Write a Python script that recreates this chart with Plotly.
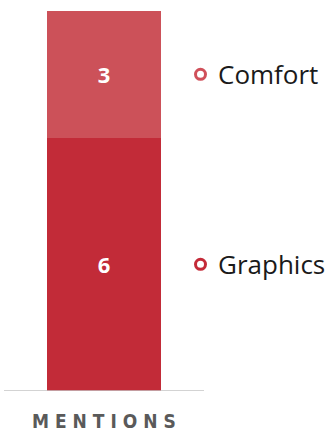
import plotly.graph_objects as go

categories = ["MENTIONS"]
series_names = ["Graphics", "Comfort"]
series_values = [[6], [3]]
series_colors = ["#c22b38", "#cc5159"]
marker_colors = ["#c42a38", "#d0505a"]

fig = go.Figure()
for name, vals, col in zip(series_names, series_values, series_colors):
    fig.add_trace(go.Bar(
        x=categories, y=vals, name=name, marker=dict(color=col, line=dict(width=0)),
        width=0.57, text=[str(v) for v in vals], textposition="inside",
        insidetextanchor="middle", textangle=0,
        textfont=dict(family="Open Sans", size=22, color="white", weight="bold"),
        hoverinfo="skip", showlegend=False,
    ))

# legend-like labels positioned at segment midpoints
mids = []
cum = 0
for vals in series_values:
    mids.append(cum + vals[0] / 2)
    cum += vals[0]

fig.add_trace(go.Scatter(
    x=[200.5] * len(mids), y=mids, xaxis="x2", yaxis="y", mode="markers",
    marker=dict(symbol="circle-open", size=10, color=marker_colors,
                line=dict(width=3, color=marker_colors)),
    hoverinfo="skip", showlegend=False,
))
for name, m in zip(series_names, mids):
    fig.add_annotation(x=216, y=m, xref="x2", yref="y", text=name, showarrow=False,
                       xanchor="left", yanchor="middle",
                       font=dict(family="Open Sans", size=26, color="#1a1a1a"))

fig.add_annotation(x=0, y=0, xref="x", yref="paper", text=" ".join(categories[0]),
                   showarrow=False, xanchor="center", yanchor="middle", yshift=-30,
                   font=dict(family="DejaVu Sans Condensed, DejaVu Sans", size=19,
                             color="#5a5a5a", weight="bold"))

fig.add_shape(type="line", xref="x", yref="y", x0=-0.5, x1=0.5, y0=0, y1=0,
              line=dict(color="#c4c4c4", width=1.5))

fig.update_layout(
    width=329, height=432, margin=dict(l=0, r=0, t=11, b=41),
    barmode="stack", plot_bgcolor="white", paper_bgcolor="white",
    xaxis=dict(range=[-0.52, 1.125], showticklabels=False, showgrid=False, zeroline=False,
               showline=False, ticks=""),
    xaxis2=dict(range=[0, 329], overlaying="x", visible=False),
    yaxis=dict(range=[0, 9], visible=False, showgrid=False, zeroline=False),
    hovermode=False,
)
fig.write_html("out.html", config={"displayModeBar": False})
